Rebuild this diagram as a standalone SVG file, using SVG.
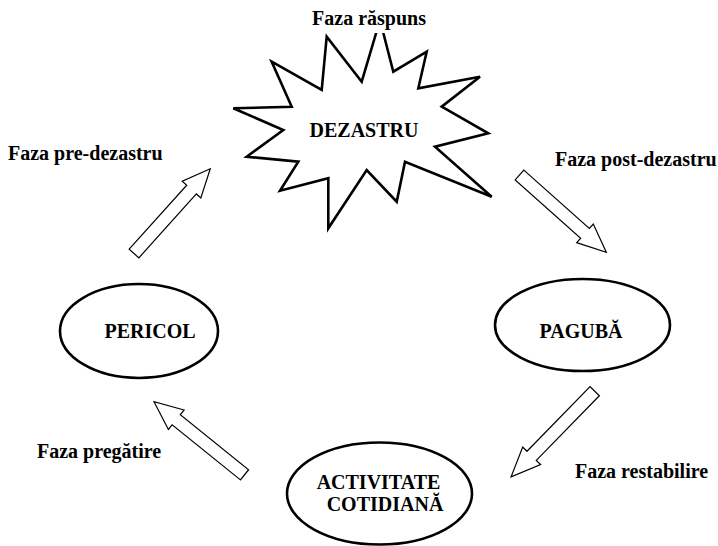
<svg xmlns="http://www.w3.org/2000/svg" width="718" height="546" viewBox="0 0 718 546">
<defs>
<style>
.t{font-family:"Liberation Serif","Times New Roman",serif;font-weight:bold;font-size:20px;fill:#000}
.node{fill:#fff;stroke:#000;stroke-width:2.6}
.arr{fill:#fff;stroke:#000;stroke-width:1.2;stroke-linejoin:miter}
</style>
<polygon id="blk" points="0,-6.5 86,-6.5 86,-12.5 114,0 86,12.5 86,6.5 0,6.5"/>
</defs>
<rect width="718" height="546" fill="#fff"/>
<g id="connectors">
<use href="#blk" class="arr" transform="translate(134,253.5) rotate(-48) scale(1,1)"/>
<use href="#blk" class="arr" transform="translate(519.5,175) rotate(41.7) scale(1.02,1)"/>
<use href="#blk" class="arr" transform="translate(594.7,391.2) rotate(134.3) scale(1.05,1)"/>
<use href="#blk" class="arr" transform="translate(244.5,474.8) rotate(218.9) scale(1.02,1)"/>
</g>
<g id="dezastru">
<polygon class="node" stroke-linejoin="miter" points="271.7,61.7 321.7,90 326.7,36.7 361.7,81.7 380,20 393.3,71.7 426.7,51.7 418.3,88.3 480,76.7 441.7,106.7 488.3,133.3 435,146.7 491.7,196.7 405,161.7 396.7,201.7 366.7,170 328.3,228.3 328.3,178.3 280,190.7 298.3,161.7 246.7,156.7 283.3,130 233.3,108.3 291.7,106.7"/>
<text class="t" x="364" y="136.5" text-anchor="middle">DEZASTRU</text>
</g>
<g id="faza-raspuns">
<rect x="305" y="3" width="128" height="30" fill="#fff"/>
<text class="t" x="369" y="25" text-anchor="middle">Faza răspuns</text>
</g>
<g id="pericol">
<ellipse class="node" cx="139" cy="331" rx="79" ry="47"/>
<text class="t" x="150" y="338" text-anchor="middle">PERICOL</text>
</g>
<g id="paguba">
<ellipse class="node" cx="582.5" cy="325" rx="87.5" ry="46"/>
<text class="t" x="581" y="338" text-anchor="middle">PAGUBĂ</text>
</g>
<g id="activitate">
<ellipse class="node" cx="379.5" cy="493.5" rx="92.5" ry="51"/>
<text class="t" x="378.5" y="488.5" text-anchor="middle">ACTIVITATE</text>
<text class="t" x="385" y="510.5" text-anchor="middle">COTIDIANĂ</text>
</g>
<g id="labels">
<text class="t" x="8" y="160">Faza pre-dezastru</text>
<text class="t" x="555" y="166">Faza post-dezastru</text>
<text class="t" x="37" y="458">Faza pregătire</text>
<text class="t" x="575" y="478">Faza restabilire</text>
</g>
</svg>
